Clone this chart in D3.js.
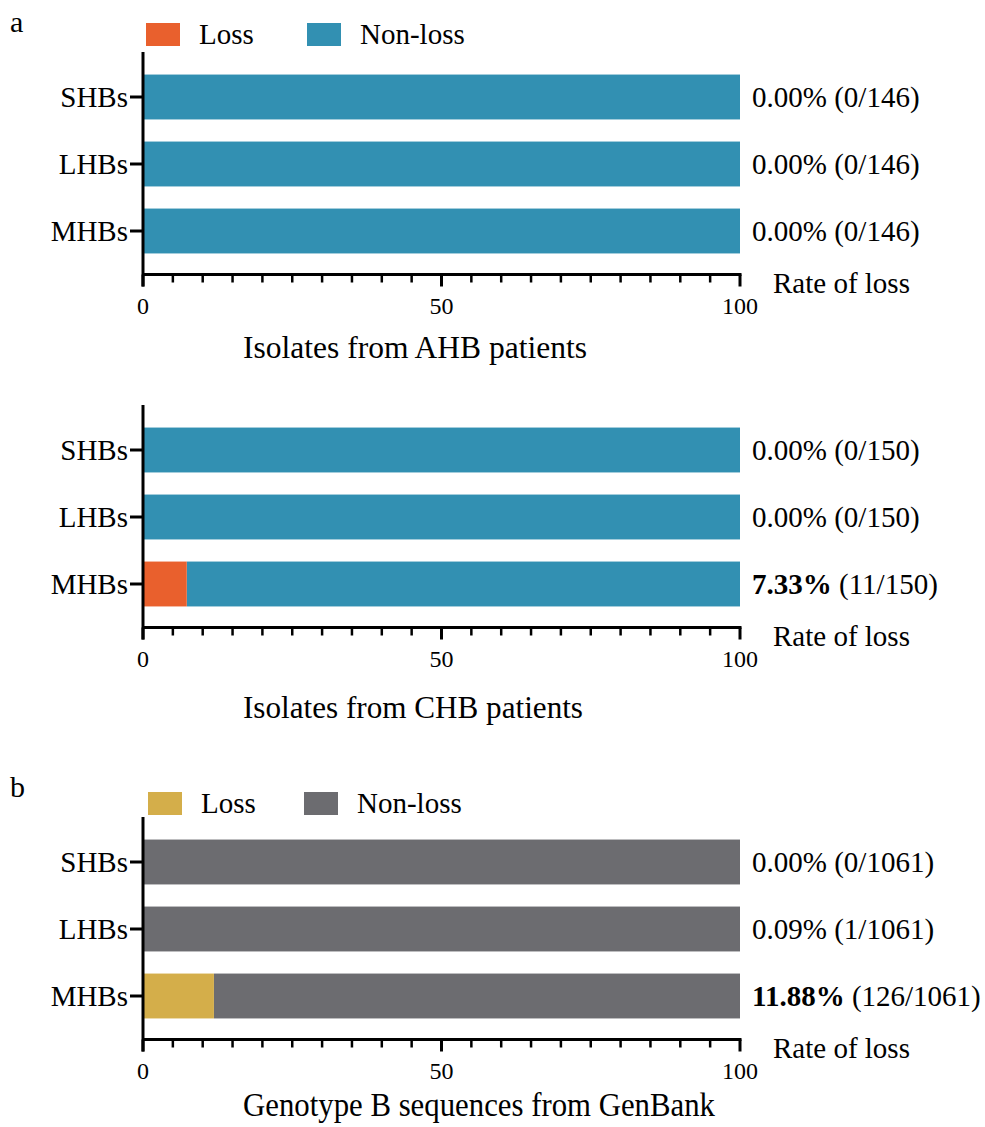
<!DOCTYPE html>
<html><head><meta charset="utf-8">
<script src="https://cdn.jsdelivr.net/npm/d3@7"></script>
<style>body{margin:0;background:#fff}svg{display:block}svg text{font-family:"Liberation Serif",serif}</style>
</head><body>
<script>
const categories = ['SHBs','LHBs','MHBs'];
const ahbLoss = [0, 0, 0];
const ahbCounts = [0, 0, 0];
const ahbTotal = 146;
const chbLoss = [0, 0, 7.33];
const chbCounts = [0, 0, 11];
const chbTotal = 150;
const gbLoss = [0, 0.09, 11.88];
const gbCounts = [0, 1, 126];
const gbTotal = 1061;
const boldAhb = [false,false,false];
const boldChb = [false,false,true];
const boldGb = [false,false,true];
const majorTicks = [0, 50, 100];
const minorTicks = d3.range(0, 101, 5);
const titles = ['Isolates from AHB patients','Isolates from CHB patients','Genotype B sequences from GenBank'];
const legendLabels = ['Loss','Non-loss'];

const W = 985, H = 1127;
const FONT = 'Liberation Serif';
const svg = d3.select('body').append('svg').attr('width', W).attr('height', H)
  .attr('font-family', FONT);

const x = d3.scaleLinear().domain([0,100]).range([143, 740]);

function panel(cfg){
  const g = svg.append('g');
  const y = d3.scaleBand().domain(categories).range([cfg.y0, cfg.y0 + 201])
    .paddingInner(0.33).paddingOuter(0.165);
  const rows = categories.map((c,i)=>({c, loss:cfg.loss[i], count:cfg.counts[i], bold:cfg.bold[i]}));
  g.selectAll('rect.nl').data(rows).join('rect')
    .attr('x', d=>x(d.loss)).attr('y', d=>y(d.c))
    .attr('width', d=>x(100)-x(d.loss)).attr('height', y.bandwidth())
    .attr('fill', cfg.colors[1]);
  g.selectAll('rect.l').data(rows.filter(d=>d.loss>0)).join('rect')
    .attr('x', x(0)).attr('y', d=>y(d.c))
    .attr('width', d=>x(d.loss)-x(0)).attr('height', y.bandwidth())
    .attr('fill', cfg.colors[0]);
  const axisY = cfg.y0 + 211;
  const ya = g.append('g').attr('transform', `translate(${x(0)},0)`)
    .call(d3.axisLeft(y).tickSize(13).tickSizeOuter(0).tickPadding(2));
  ya.attr('font-family', FONT);
  ya.select('.domain').remove();
  ya.selectAll('line').attr('stroke','#000').attr('stroke-width',3);
  ya.selectAll('text').attr('font-size',29).attr('font-family',FONT).attr('fill','#000')
    .attr('dy','0.34em');
  g.append('line').attr('x1',x(0)).attr('x2',x(0)).attr('y1',cfg.y0-11.5).attr('y2',axisY+12)
    .attr('stroke','#000').attr('stroke-width',3);
  const xa = g.append('g').attr('transform', `translate(0,${axisY})`);
  xa.append('line').attr('x1',x(0)).attr('x2',x(100)+1.5).attr('stroke','#000').attr('stroke-width',3);
  xa.selectAll('line.mt').data(minorTicks.filter(v=>!majorTicks.includes(v))).join('line')
    .attr('x1',d=>x(d)).attr('x2',d=>x(d)).attr('y1',0).attr('y2',8)
    .attr('stroke','#000').attr('stroke-width',2.5);
  xa.selectAll('line.Mt').data(majorTicks).join('line')
    .attr('x1',d=>x(d)).attr('x2',d=>x(d)).attr('y1',0).attr('y2',12)
    .attr('stroke','#000').attr('stroke-width',3);
  xa.selectAll('text').data(majorTicks).join('text')
    .attr('x',d=>x(d)).attr('y',39).attr('text-anchor','middle')
    .attr('font-size',24).text(d=>d);
  g.append('text').attr('x',773).attr('y',axisY+18).attr('font-size',29).text('Rate of loss');
  const vl = g.selectAll('text.vl').data(rows).join('text')
    .attr('x',752).attr('y',d=>y(d.c)+y.bandwidth()/2+10).attr('font-size',29);
  vl.append('tspan').attr('font-weight',d=>d.bold?'bold':'normal').text(d=>d.loss.toFixed(2)+'%');
  vl.append('tspan').text(d=>` (${d.count}/${cfg.total})`);
  const t = g.append('text').attr('x',cfg.titleX).attr('y',cfg.titleY).attr('text-anchor','middle')
    .attr('font-size',cfg.titleSize).text(cfg.title);
  if (cfg.titleLen) t.attr('textLength',cfg.titleLen).attr('lengthAdjust','spacingAndGlyphs');
  if (cfg.legendY != null){
    const lx = cfg.legendX;
    cfg.colors.forEach((c,i)=>{
      g.append('rect').attr('x',lx[i]).attr('y',cfg.legendY).attr('width',34).attr('height',23).attr('fill',c);
      g.append('text').attr('x',lx[i]+53).attr('y',cfg.legendY+21).attr('font-size',29).text(legendLabels[i]);
    });
  }
  if (cfg.letter){
    svg.append('text').attr('x',10).attr('y',cfg.letterY).attr('font-size',30).text(cfg.letter);
  }
}

panel({y0:63.5, loss:ahbLoss, counts:ahbCounts, total:ahbTotal, bold:boldAhb,
  colors:['#E9602D','#3290B2'], title:titles[0], titleX:415, titleY:358, titleSize:31, titleLen:344,
  legendY:23, legendX:[146,307], letter:'a', letterY:32});
panel({y0:416.5, loss:chbLoss, counts:chbCounts, total:chbTotal, bold:boldChb,
  colors:['#E9602D','#3290B2'], title:titles[1], titleX:413, titleY:718, titleSize:31, titleLen:340});
panel({y0:828.5, loss:gbLoss, counts:gbCounts, total:gbTotal, bold:boldGb,
  colors:['#D4AE4A','#6C6C70'], title:titles[2], titleX:479, titleY:1116, titleSize:33, titleLen:472,
  legendY:792, legendX:[148,304], letter:'b', letterY:797});
</script>
</body></html>
